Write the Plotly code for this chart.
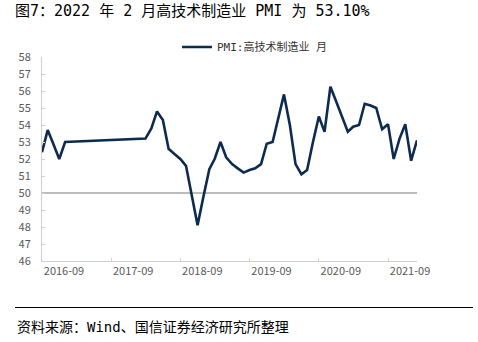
import plotly.graph_objects as go

# ---- data ----
months = ["2016-09", "2016-10", "2016-11", "2016-12", "2017-01",
          "2018-03", "2018-04", "2018-05", "2018-06", "2018-07", "2018-08",
          "2018-09", "2018-10", "2018-11", "2018-12", "2019-01", "2019-02",
          "2019-03", "2019-04", "2019-05", "2019-06", "2019-07", "2019-08",
          "2019-09", "2019-10", "2019-11", "2019-12", "2020-01", "2020-02",
          "2020-03", "2020-04", "2020-05", "2020-06", "2020-07", "2020-08",
          "2020-09", "2020-10", "2020-11", "2020-12", "2021-01", "2021-02",
          "2021-03", "2021-04", "2021-05", "2021-06", "2021-07", "2021-08",
          "2021-09", "2021-10", "2021-11", "2021-12", "2022-01", "2022-02"]
pmi = [52.4, 53.7, 52.85, 52.0, 53.0,
       53.2, 53.8, 54.8, 54.3, 52.6, 52.3,
       52.0, 51.6, 49.9, 48.1, 49.8, 51.4,
       52.0, 53.0, 52.1, 51.7, 51.45, 51.2,
       51.35, 51.45, 51.7, 52.9, 53.0, 54.4,
       55.8, 54.0, 51.7, 51.1, 51.35, 53.0,
       54.5, 53.6, 56.25, 55.4, 54.5, 53.6,
       53.9, 54.0, 55.25, 55.15, 55.0, 53.75,
       54.05, 52.0, 53.2, 54.05, 51.9, 53.1]
tick_dates = ["2016-09-01", "2017-09-01", "2018-09-01", "2019-09-01", "2020-09-01", "2021-09-01"]
tick_labels = ["2016-09", "2017-09", "2018-09", "2019-09", "2020-09", "2021-09"]
series_name = "PMI:高技术制造业 月"
title_text = "图7：2022 年 2 月高技术制造业 PMI 为 53.10%"
source_text = "资料来源：Wind、国信证券经济研究所整理"

# ---- geometry (pixels) ----
W, H = 478, 342
L, R, T, B = 42, 417, 57, 261
pw, ph = R - L, B - T


def px_x(x):
    return (x - L) / pw


def px_y(y):
    return (B - y) / ph


FONT = "Noto Sans CJK SC"
MONO = "DejaVu Sans Mono, Noto Sans CJK SC"
line_color = "#0c2b4e"

fig = go.Figure()
fig.add_trace(go.Scatter(
    x=[m + "-01" for m in months], y=pmi, mode="lines", name=series_name,
    line=dict(color=line_color, width=2.6), showlegend=True,
))

fig.add_hline(y=50, line=dict(color="#a6a6a6", width=1.5), layer="below")

fig.update_layout(
    width=W, height=H,
    margin=dict(l=L, r=W - R, t=T, b=H - B, pad=0),
    paper_bgcolor="white", plot_bgcolor="white",
    font=dict(family=FONT, color="#595959", size=11),
    title=dict(text=title_text, x=15 / W, xanchor="left", xref="container",
               y=1 - 11 / H, yanchor="middle", yref="container",
               font=dict(family=MONO, size=15, color="#000000")),
    showlegend=True,
    legend=dict(orientation="h", x=px_x(177), xanchor="left", y=px_y(47), yanchor="middle",
                font=dict(family=MONO, size=11, color="#333333"), bgcolor="rgba(0,0,0,0)"),
    xaxis=dict(type="date", range=["2016-09-01", "2022-02-01"],
               tickvals=tick_dates, ticktext=tick_labels,
               showgrid=False, zeroline=False, showline=True, linecolor="#d0d0d0", linewidth=1,
               ticks="inside", ticklen=3, tickcolor="#d0d0d0",
               ticklabelshift=22, ticklabelstandoff=0,
               tickfont=dict(family=FONT, size=11, color="#595959")),
    yaxis=dict(range=[46, 58], dtick=1, tick0=46,
               showgrid=False, zeroline=False, showline=True, linecolor="#d0d0d0", linewidth=1,
               ticks="inside", ticklen=3, tickcolor="#d0d0d0",
               ticklabelstandoff=8,
               tickfont=dict(family=FONT, size=11, color="#595959")),
    shapes=[
        dict(type="line", xref="paper", yref="paper", x0=px_x(15), x1=px_x(473),
             y0=px_y(21), y1=px_y(21), line=dict(color="#000000", width=1.2)),
        dict(type="line", xref="paper", yref="paper", x0=px_x(15), x1=px_x(473),
             y0=px_y(307.5), y1=px_y(307.5), line=dict(color="#000000", width=1.2)),
    ],
    annotations=[
        dict(text=source_text, xref="paper", yref="paper", x=px_x(15), y=px_y(327),
             xanchor="left", yanchor="middle", showarrow=False,
             font=dict(family=MONO, size=14, color="#000000")),
    ],
)

fig.write_html("out.html")
